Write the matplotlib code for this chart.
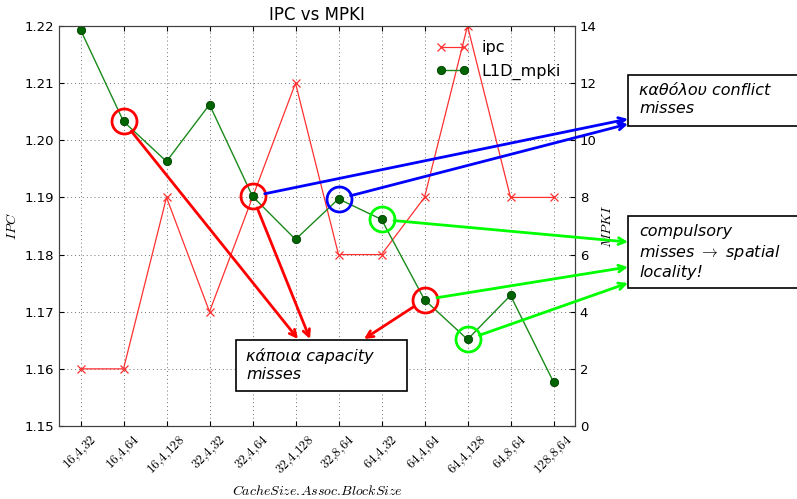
import matplotlib
matplotlib.use('Agg')
import matplotlib.pyplot as plt
from matplotlib.patches import Rectangle

configs = ['16,4,32', '16,4,64', '16,4,128', '32,4,32', '32,4,64', '32,4,128',
           '32,8,64', '64,4,32', '64,4,64', '64,4,128', '64,8,64', '128,8,64']
ipc = [1.16, 1.16, 1.19, 1.17, 1.19, 1.21, 1.18, 1.18, 1.19, 1.22, 1.19, 1.19]
l1d_mpki = [13.87, 10.66, 9.26, 11.25, 8.04, 6.53, 7.95, 7.23, 4.42, 3.03, 4.57, 1.54]

# circled configs: (index, colour)
circled = [(1, 'r'), (4, 'r'), (8, 'r'), (6, 'b'), (7, '#00ff00'), (9, '#00ff00')]

# arrows from a circled config to its comment box: (index, target px, colour)
arrows = [(1, (298, 339), 'r'), (4, (310, 339), 'r'), (8, (364, 339), 'r'),
          (4, (628, 119), 'b'), (6, (628, 124), 'b'),
          (7, (628, 242), '#00ff00'), (8, (628, 267), '#00ff00'), (9, (628, 283), '#00ff00')]

W, H = 797, 499
plt.rcParams['mathtext.fontset'] = 'cm'
plt.rcParams['xtick.direction'] = 'in'
plt.rcParams['ytick.direction'] = 'in'


def px(x, y):
    return x / W, 1 - y / H


fig = plt.figure(figsize=(W / 100, H / 100), dpi=100)
ax = fig.add_axes([59 / W, 1 - 426 / H, (575 - 59) / W, 400 / H])
ax2 = ax.twinx()

x = list(range(len(configs)))
l1, = ax.plot(x, ipc, '-x', color='#ff3030', lw=0.9, ms=6, mew=0.9)
l2, = ax2.plot(x, l1d_mpki, '-o', color='#1a8a1a', lw=1, ms=6, mfc='#006400', mec='#004000', mew=0.6)

ax.set_xlim(-0.5, len(configs) - 0.5)
ax.set_ylim(1.15, 1.22)
ax.set_yticks([1.15 + 0.01 * i for i in range(8)])
ax.set_yticklabels(['%.2f' % (1.15 + 0.01 * i) for i in range(8)], fontsize=9.5)
ax2.set_ylim(0, 14)
ax2.set_yticks(range(0, 15, 2))
ax2.tick_params(axis='y', labelsize=9.5)
ax.set_xticks(x)
ax.set_xticklabels(['$%s$' % c.replace(',', '{,}') for c in configs], rotation=45, fontsize=9.5)
ax.tick_params(axis='x', top=True, pad=5)
ax.grid(True, linestyle=(0, (1, 3)), color='0.45', lw=0.7)

for a in (ax, ax2):
    for s in a.spines.values():
        s.set_color('0.25')

ax.set_title('IPC vs MPKI', fontsize=12, pad=4)
ax.set_xlabel('$CacheSize.\\!Assoc.\\!BlockSize$', fontsize=10, labelpad=4)
ax.set_ylabel('$IPC$', fontsize=10)
ax2.set_ylabel('$MPKI$', fontsize=10, labelpad=2)

ax2.legend([l1, l2], ['ipc', 'L1D_mpki'], loc='upper right', frameon=False,
           numpoints=2, fontsize=11.5)

for i, c in circled:
    ax2.plot(i, l1d_mpki[i], 'o', ms=18, mfc='none', mec=c, mew=2, zorder=4)

for i, tgt, c in arrows:
    ax2.annotate('', xy=px(*tgt), xycoords='figure fraction',
                 xytext=(i, l1d_mpki[i]), textcoords='data',
                 arrowprops=dict(arrowstyle='->', color=c, lw=2, shrinkA=9, shrinkB=0,
                                 mutation_scale=12),
                 annotation_clip=False, zorder=5)

# comment boxes
boxes = [((236, 340, 407, 391), (246, 348), 'κάποια capacity\nmisses'),
         ((628, 75, 805, 126), (639, 83), 'καθόλου conflict\nmisses'),
         ((628, 216, 805, 288), (639, 224), 'compulsory\nmisses $\\rightarrow$ spatial\nlocality!')]
for (x0, y0, x1, y1), (tx, ty), s in boxes:
    fig.patches.append(Rectangle(px(x0, y1), (x1 - x0) / W, (y1 - y0) / H,
                                 transform=fig.transFigure, fc='white', ec='black', lw=1.2))
    fig.text(*px(tx, ty), s, ha='left', va='top', fontsize=11.5, style='italic',
             linespacing=1.25)

fig.savefig('out.png', dpi=100)
